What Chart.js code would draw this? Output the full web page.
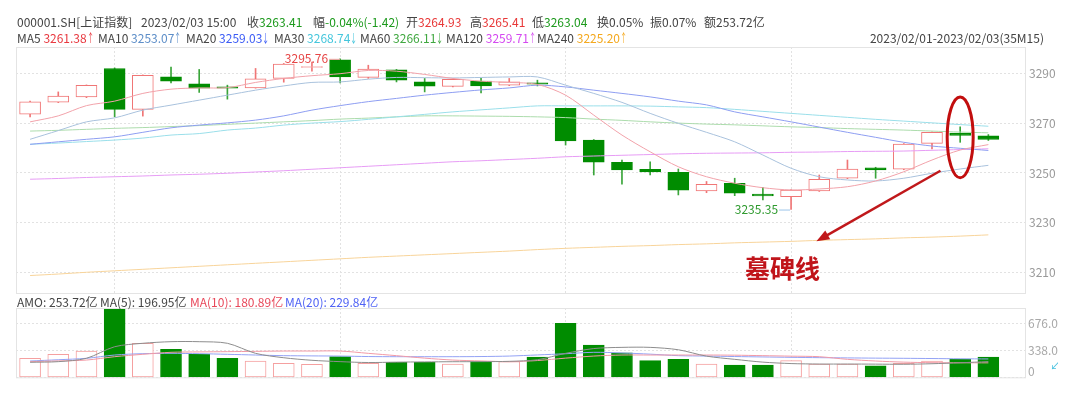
<!DOCTYPE html>
<html>
<head>
<meta charset="utf-8">
<script src="https://cdn.jsdelivr.net/npm/chart.js@4"></script>
<style>
  body { margin: 0; background: #fff; font-family: "Noto Sans CJK SC", "Noto Sans", sans-serif; }
  #quadro { position: relative; width: 1080px; height: 398px; overflow: hidden; }
  canvas { position: absolute; left: 0; top: 0; }
  .txt { position: absolute; font-size: 12px; line-height: 14px; color: #444; white-space: nowrap; }
  .verde { color: #1d9a1d; }
  .verm { color: #e83838; }
  .seta { display: inline-block; width: 6px; transform: scaleX(0.6); transform-origin: left; }
</style>
</head>
<body>
<div id="quadro">
  <canvas id="grafico-volume" width="1080" height="398"></canvas>
  <canvas id="grafico-preco" width="1080" height="398"></canvas>

  <!-- cabeçalho -->
  <div class="txt" style="left:17px;top:15px">000001.SH[上证指数]</div>
  <div class="txt" style="left:141px;top:15px">2023/02/03 15:00</div>
  <div class="txt" style="left:247px;top:15px">收<span class="verde">3263.41</span></div>
  <div class="txt" style="left:313px;top:15px">幅<span class="verde">-0.04%(-1.42)</span></div>
  <div class="txt" style="left:406px;top:15px">开<span class="verm">3264.93</span></div>
  <div class="txt" style="left:470px;top:15px">高<span class="verm">3265.41</span></div>
  <div class="txt" style="left:532px;top:15px">低<span class="verde">3263.04</span></div>
  <div class="txt" style="left:597px;top:15px">换0.05%</div>
  <div class="txt" style="left:650px;top:15px">振0.07%</div>
  <div class="txt" style="left:704px;top:15px">额253.72亿</div>

  <div class="txt" style="left:17px;top:31px">MA5 <span style="color:#e8383f">3261.38<span class="seta">↑</span></span></div>
  <div class="txt" style="left:98px;top:31px">MA10 <span style="color:#5d8ec8">3253.07<span class="seta">↑</span></span></div>
  <div class="txt" style="left:186px;top:31px">MA20 <span style="color:#3c5cf5">3259.03<span class="seta">↓</span></span></div>
  <div class="txt" style="left:274px;top:31px">MA30 <span style="color:#45c6dc">3268.74<span class="seta">↓</span></span></div>
  <div class="txt" style="left:360px;top:31px">MA60 <span style="color:#3fa73f">3266.11<span class="seta">↓</span></span></div>
  <div class="txt" style="left:446px;top:31px">MA120 <span style="color:#d448f0">3259.71<span class="seta">↑</span></span></div>
  <div class="txt" style="left:537px;top:31px">MA240 <span style="color:#f4a81d">3225.20<span class="seta">↑</span></span></div>
  <div class="txt" style="right:36px;top:31px">2023/02/01-2023/02/03(35M15)</div>

  <!-- cabeçalho do volume -->
  <div class="txt" style="left:17px;top:295px">AMO: 253.72亿</div>
  <div class="txt" style="left:100px;top:295px">MA(5): 196.95亿</div>
  <div class="txt" style="left:190px;top:295px;color:#e8485a">MA(10): 180.89亿</div>
  <div class="txt" style="left:285px;top:295px;color:#4f62f5">MA(20): 229.84亿</div>
</div>

<script>
// Horários das barras de 15 minutos
const horarios = [
    '2023/02/01 14:30', '2023/02/01 14:45', '2023/02/01 15:00',
    '2023/02/02 09:45', '2023/02/02 10:00', '2023/02/02 10:15', '2023/02/02 10:30',
    '2023/02/02 10:45', '2023/02/02 11:00', '2023/02/02 11:15', '2023/02/02 11:30',
    '2023/02/02 13:15', '2023/02/02 13:30', '2023/02/02 13:45', '2023/02/02 14:00',
    '2023/02/02 14:15', '2023/02/02 14:30', '2023/02/02 14:45', '2023/02/02 15:00',
    '2023/02/03 09:45', '2023/02/03 10:00', '2023/02/03 10:15', '2023/02/03 10:30',
    '2023/02/03 10:45', '2023/02/03 11:00', '2023/02/03 11:15', '2023/02/03 11:30',
    '2023/02/03 13:15', '2023/02/03 13:30', '2023/02/03 13:45', '2023/02/03 14:00',
    '2023/02/03 14:15', '2023/02/03 14:30', '2023/02/03 14:45', '2023/02/03 15:00'
];

// Velas (OHLC)
const abertura = [3273.6, 3278.4, 3280.5, 3291.9, 3275.5, 3288.5, 3285.7, 3284.5, 3284.1, 3287.9,
    3292.3, 3295.4, 3288.3, 3291.3, 3286.5, 3284.7, 3286.8, 3285.2, 3286.1, 3275.9,
    3263.2, 3254.3, 3251.5, 3250.3, 3242.8, 3245.9, 3241.5, 3240.5, 3242.8, 3247.9,
    3252.1, 3251.5, 3261.9, 3266.0, 3264.93];
const maxima = [3278.8, 3282.5, 3285.3, 3292.1, 3289.3, 3292.5, 3291.5, 3285.2, 3291.9, 3293.9,
    3294.5, 3295.76, 3293.2, 3291.5, 3287.9, 3287.7, 3287.9, 3287.9, 3287.2, 3276.0,
    3263.4, 3255.2, 3254.5, 3251.6, 3246.6, 3247.9, 3244.3, 3243.4, 3249.2, 3255.2,
    3252.3, 3261.8, 3266.5, 3268.5, 3265.41];
const minima = [3272.5, 3278.2, 3280.2, 3272.5, 3272.8, 3286.1, 3282.3, 3279.6, 3284.0, 3286.4,
    3290.8, 3286.1, 3287.9, 3286.5, 3282.5, 3284.5, 3282.1, 3285.0, 3284.9, 3261.2,
    3249.2, 3245.5, 3249.2, 3241.2, 3242.1, 3240.9, 3239.2, 3235.35, 3242.6, 3247.7,
    3247.9, 3251.3, 3259.6, 3262.3, 3263.04];
const fechamento = [3278.5, 3280.8, 3285.1, 3275.5, 3289.1, 3286.8, 3284.0, 3284.0, 3287.7, 3293.7,
    3292.7, 3288.5, 3291.6, 3287.2, 3284.8, 3287.5, 3284.9, 3286.5, 3285.6, 3262.9,
    3254.3, 3251.2, 3250.4, 3243.1, 3245.5, 3241.9, 3240.8, 3243.2, 3247.5, 3251.6,
    3251.2, 3261.6, 3266.3, 3265.1, 3263.41];

// Médias móveis do preço
const ma5 = [3270.5, 3272.9, 3277.0, 3278.8, 3281.9, 3283.6, 3284.1, 3284.2, 3286.3, 3287.9,
    3289.0, 3289.8, 3291.1, 3290.8, 3289.5, 3287.9, 3286.8, 3286.3, 3285.5, 3281.2,
    3273.2, 3265.2, 3258.5, 3252.5, 3248.5, 3245.9, 3244.1, 3243.2, 3243.6, 3244.5,
    3246.8, 3250.5, 3255.2, 3259.2, 3261.38];
const ma10 = [3263.5, 3267.0, 3270.5, 3272.1, 3275.2, 3277.2, 3279.2, 3281.2, 3283.2, 3284.9,
    3286.3, 3286.5, 3287.6, 3288.3, 3288.2, 3288.1, 3288.3, 3288.5, 3288.5, 3285.2,
    3281.9, 3278.3, 3273.9, 3269.9, 3266.3, 3262.5, 3257.2, 3251.9, 3248.5, 3247.2,
    3246.8, 3247.9, 3249.9, 3251.6, 3253.07];
const ma20 = [3261.5, 3262.5, 3263.5, 3264.5, 3266.3, 3268.1, 3269.2, 3270.1, 3271.2, 3272.9,
    3275.2, 3277.0, 3278.6, 3279.9, 3281.2, 3282.3, 3283.3, 3284.1, 3285.2, 3284.5,
    3283.2, 3281.9, 3280.5, 3278.8, 3277.3, 3274.5, 3272.5, 3270.5, 3268.4, 3266.3,
    3264.3, 3262.3, 3260.8, 3259.9, 3259.03];
const ma30 = [3261.5, 3262.0, 3262.6, 3263.2, 3264.0, 3265.2, 3265.8, 3267.2, 3268.0, 3269.2,
    3270.0, 3270.6, 3271.5, 3272.5, 3273.5, 3274.5, 3275.3, 3276.1, 3276.9, 3276.9,
    3276.9, 3276.9, 3276.8, 3276.5, 3276.2, 3275.5, 3274.7, 3273.9, 3273.1, 3272.3,
    3271.5, 3270.8, 3270.1, 3269.4, 3268.74];
const ma60 = [3266.8, 3267.1, 3267.5, 3267.9, 3268.2, 3268.6, 3269.0, 3269.5, 3270.0, 3270.5,
    3271.0, 3271.6, 3272.0, 3272.5, 3272.9, 3272.9, 3272.8, 3272.7, 3272.5, 3272.2,
    3271.6, 3271.1, 3270.5, 3270.0, 3269.6, 3269.3, 3268.9, 3268.5, 3268.2, 3267.8,
    3267.5, 3267.2, 3266.8, 3266.4, 3266.11];
const ma120 = [3247.5, 3247.8, 3248.2, 3248.5, 3248.8, 3249.2, 3249.5, 3249.9, 3250.4, 3250.9,
    3251.5, 3252.1, 3252.7, 3253.3, 3253.9, 3254.5, 3254.9, 3255.4, 3255.9, 3256.5,
    3256.8, 3257.1, 3257.4, 3257.7, 3257.9, 3258.0, 3258.1, 3258.3, 3258.4, 3258.6,
    3258.7, 3258.8, 3259.1, 3259.4, 3259.71];
const ma240 = [3208.9, 3209.5, 3210.2, 3210.8, 3211.4, 3212.0, 3212.6, 3213.2, 3213.8, 3214.4,
    3215.0, 3215.6, 3216.2, 3216.7, 3217.2, 3217.7, 3218.2, 3218.7, 3219.3, 3219.8,
    3220.2, 3220.6, 3220.9, 3221.3, 3221.6, 3222.0, 3222.3, 3222.6, 3223.0, 3223.3,
    3223.6, 3224.0, 3224.3, 3224.7, 3225.20];

// Volume (亿) e suas médias
const volume = [238, 288, 329, 850, 426, 350, 288, 238, 204, 175,
    163, 258, 175, 188, 188, 166, 196, 196, 254, 676,
    404, 308, 208, 225, 166, 154, 154, 208, 166, 166,
    145, 175, 204, 229, 253.72];
const volMa5 = [188, 196, 238, 383, 426, 446, 446, 426, 300, 245,
    213, 196, 185, 190, 193, 195, 196, 200, 220, 300,
    360, 375, 375, 345, 265, 225, 190, 172, 166, 166,
    165, 163, 170, 182, 196.95];
const volMa10 = [196, 205, 216, 258, 288, 313, 318, 321, 325, 329,
    329, 329, 300, 271, 240, 216, 205, 196, 210, 240,
    266, 279, 279, 279, 279, 277, 271, 265, 258, 225,
    204, 190, 183, 182, 180.89];
const volMa20 = [204, 220, 238, 279, 296, 300, 296, 288, 279, 271,
    268, 266, 260, 258, 258, 258, 260, 266, 280, 295,
    313, 305, 290, 271, 266, 260, 255, 250, 246, 243,
    240, 238, 235, 232, 229.84];

// Rótulos dos eixos
const ticksPreco = [3210, 3230, 3250, 3270, 3290];
const ticksVolume = [0, 338, 676];

const FONTE = '"Noto Sans CJK SC", "Noto Sans", sans-serif';
const VERDE = '#008c00';
const VERMELHO = '#f07676';

// Início de cada pregão (linhas verticais da grade)
const inicioSessao = [];
horarios.forEach((h, i) => {
    if (h.endsWith('09:45') || h.endsWith('13:15')) inicioSessao.push(i + 1);
});

const alta = abertura.map((a, i) => fechamento[i] >= a);

function pontos(serie) {
    return serie.map((v, i) => ({ x: i + 1, y: v }));
}

function linha(serie, cor, ordem) {
    return {
        type: 'line',
        data: pontos(serie),
        borderColor: cor,
        borderWidth: 1,
        pointRadius: 0,
        tension: 0.3,
        order: ordem
    };
}

function eixoX() {
    return {
        type: 'linear',
        min: 0.5,
        max: 36.3,
        offset: false,
        bounds: 'data',
        afterBuildTicks: s => { s.ticks = inicioSessao.map(v => ({ value: v })); },
        afterFit: s => { s.height = 0; },
        ticks: { display: false },
        grid: { color: '#e2e2e2', drawTicks: false, offset: false },
        border: { display: false, dash: [2, 2] }
    };
}

// Moldura da área do gráfico
const moldura = {
    id: 'moldura',
    beforeDatasetsDraw(chart) {
        const a = chart.chartArea;
        const ctx = chart.ctx;
        ctx.save();
        ctx.strokeStyle = '#e4e4e4';
        ctx.lineWidth = 1;
        ctx.strokeRect(a.left + 0.5, a.top + 0.5, a.right - a.left, a.bottom - a.top);
        ctx.restore();
    }
};

// Anotações: máxima, mínima, elipse, seta e texto
const anotacoes = {
    id: 'anotacoes',
    afterDatasetsDraw(chart) {
        const ctx = chart.ctx;
        const x = chart.scales.x;
        const y = chart.scales.y;
        ctx.save();
        ctx.font = '12px ' + FONTE;
        ctx.textBaseline = 'middle';

        // máxima
        const iMax = maxima.indexOf(Math.max(...maxima));
        const pxMax = x.getPixelForValue(iMax + 1);
        const pyMax = y.getPixelForValue(maxima[iMax]);
        ctx.fillStyle = '#e64545';
        ctx.textAlign = 'right';
        ctx.fillText(maxima[iMax].toFixed(2), pxMax - 12, pyMax);
        ctx.strokeStyle = '#f0a0a0';
        ctx.beginPath();
        ctx.moveTo(pxMax - 11, pyMax + 0.5);
        ctx.lineTo(pxMax, pyMax + 0.5);
        ctx.stroke();

        // mínima
        const iMin = minima.indexOf(Math.min(...minima));
        const pxMin = x.getPixelForValue(iMin + 1);
        const pyMin = y.getPixelForValue(minima[iMin]);
        ctx.fillStyle = '#2f9a2f';
        ctx.fillText(minima[iMin].toFixed(2), pxMin - 13, pyMin);
        ctx.strokeStyle = '#9cc6ea';
        ctx.beginPath();
        ctx.moveTo(pxMin - 12, pyMin + 0.5);
        ctx.lineTo(pxMin - 1, pyMin + 0.5);
        ctx.stroke();

        // elipse em volta da vela destacada
        const cx = x.getPixelForValue(34);
        const topo = y.getPixelForValue(3280.5);
        const base = y.getPixelForValue(3248.1);
        ctx.strokeStyle = '#c20e0e';
        ctx.lineWidth = 3;
        ctx.beginPath();
        ctx.ellipse(cx, (topo + base) / 2, 13, (base - topo) / 2, 0, 0, Math.PI * 2);
        ctx.stroke();

        // seta até a MA240
        const x1 = x.getPixelForValue(33.3), y1 = y.getPixelForValue(3250.9);
        const x2 = x.getPixelForValue(28.9), y2 = y.getPixelForValue(3222.6);
        const ang = Math.atan2(y2 - y1, x2 - x1);
        ctx.strokeStyle = '#c0181b';
        ctx.fillStyle = '#c0181b';
        ctx.lineWidth = 2.5;
        ctx.beginPath();
        ctx.moveTo(x1, y1);
        ctx.lineTo(x2 - 9 * Math.cos(ang), y2 - 9 * Math.sin(ang));
        ctx.stroke();
        ctx.beginPath();
        ctx.moveTo(x2, y2);
        ctx.lineTo(x2 - 13 * Math.cos(ang) + 5 * Math.sin(ang), y2 - 13 * Math.sin(ang) - 5 * Math.cos(ang));
        ctx.lineTo(x2 - 13 * Math.cos(ang) - 5 * Math.sin(ang), y2 - 13 * Math.sin(ang) + 5 * Math.cos(ang));
        ctx.closePath();
        ctx.fill();

        // texto
        ctx.font = 'bold 25px ' + FONTE;
        ctx.textAlign = 'center';
        ctx.fillStyle = '#c0141a';
        ctx.fillText('墓碑线', x.getPixelForValue(27.7), y.getPixelForValue(3211.9));
        ctx.restore();
    }
};

// Rótulos do eixo do volume (o último aparece cortado na borda)
const eixoVolume = {
    id: 'eixoVolume',
    afterDraw(chart) {
        const ctx = chart.ctx;
        const y = chart.scales.y;
        const esq = chart.chartArea.right + 3;
        ctx.save();
        ctx.beginPath();
        ctx.rect(0, 0, 1058, 398);
        ctx.clip();
        ctx.font = '12px ' + FONTE;
        ctx.fillStyle = '#a8a8a8';
        ctx.textAlign = 'left';
        ctx.textBaseline = 'middle';
        ticksVolume.forEach(v => {
            const py = y.getPixelForValue(v) - (v === 0 ? 6 : 0);
            ctx.fillText(v === 0 ? '0' : v.toFixed(1), esq, py);
        });
        ctx.fillStyle = '#4cc3e0';
        ctx.font = '11px ' + FONTE;
        ctx.fillText('↙', 1050, y.getPixelForValue(0) - 11);
        ctx.restore();
    }
};

let graficoPreco = new Chart(document.getElementById('grafico-preco'), {
    type: 'bar',
    data: {
        datasets: [
            linha(ma5, '#f2a2aa', 0),
            linha(ma10, '#a9c2dd', 0),
            linha(ma20, '#8e9ef2', 0),
            linha(ma30, '#9adfea', 0),
            linha(ma60, '#acdcac', 0),
            linha(ma120, '#e79cf5', 0),
            linha(ma240, '#f8d49a', 0),
            {
                // corpo das velas
                data: abertura.map((a, i) => ({ x: i + 1, y: [a, fechamento[i]] })),
                backgroundColor: alta.map(s => s ? '#ffffff' : VERDE),
                borderColor: alta.map(s => s ? VERMELHO : VERDE),
                borderWidth: 1,
                borderSkipped: false,
                barThickness: 21,
                grouped: false,
                order: 1
            },
            {
                // sombras
                data: minima.map((m, i) => ({ x: i + 1, y: [m, maxima[i]] })),
                backgroundColor: alta.map(s => s ? VERMELHO : '#3aa53a'),
                borderWidth: 0,
                barThickness: 1,
                grouped: false,
                order: 2
            }
        ]
    },
    options: {
        responsive: false,
        animation: false,
        layout: { padding: { top: 47, bottom: 105, left: 16, right: 0 } },
        plugins: { legend: { display: false }, tooltip: { enabled: false } },
        scales: {
            x: eixoX(),
            y: {
                position: 'right',
                min: 3201.9,
                max: 3300.5,
                afterBuildTicks: s => { s.ticks = ticksPreco.map(v => ({ value: v })); },
                afterFit: s => { s.width = 55; },
                ticks: {
                    color: '#9a9a9a',
                    font: { size: 12, family: FONTE },
                    padding: 4,
                    callback: v => String(v)
                },
                grid: { color: '#e2e2e2', drawTicks: false },
                border: { display: false, dash: [2, 2] }
            }
        }
    },
    plugins: [moldura, anotacoes]
});

let graficoVolume = new Chart(document.getElementById('grafico-volume'), {
    type: 'bar',
    data: {
        datasets: [
            linha(volMa5, '#8d8d8d', 0),
            linha(volMa10, '#f29aa6', 0),
            linha(volMa20, '#93a2f5', 0),
            {
                data: volume.map((v, i) => ({ x: i + 1, y: v })),
                backgroundColor: alta.map(s => s ? '#ffffff' : VERDE),
                borderColor: alta.map(s => s ? '#f5a0a0' : VERDE),
                borderWidth: 1,
                borderSkipped: false,
                barThickness: 21,
                grouped: false,
                order: 1
            }
        ]
    },
    options: {
        responsive: false,
        animation: false,
        layout: { padding: { top: 308, bottom: 20.7, left: 16, right: 0 } },
        plugins: { legend: { display: false }, tooltip: { enabled: false } },
        scales: {
            x: eixoX(),
            y: {
                position: 'right',
                min: 0,
                max: 868,
                afterBuildTicks: s => { s.ticks = ticksVolume.map(v => ({ value: v })); },
                afterFit: s => { s.width = 55; },
                ticks: { display: false },
                grid: { color: '#e2e2e2', drawTicks: false },
                border: { display: false, dash: [2, 2] }
            }
        }
    },
    plugins: [moldura, eixoVolume]
});
</script>
</body>
</html>
